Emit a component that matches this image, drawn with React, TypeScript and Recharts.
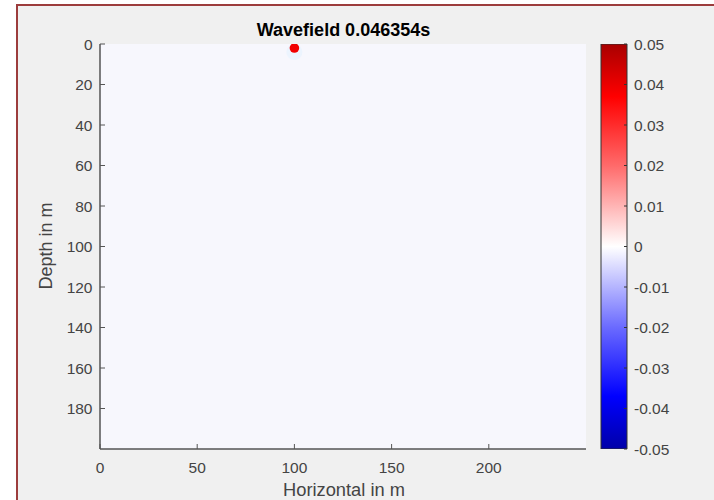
import React from 'react';
import {
  ScatterChart, Scatter, XAxis, YAxis, CartesianGrid,
  BarChart, Bar,
} from 'recharts';

const xTicks = [0, 50, 100, 150, 200];
const xDomain = [0, 250];
const yTicks = [0, 20, 40, 60, 80, 100, 120, 140, 160, 180];
const yDomain = [0, 200];
const sourcePoints = [{ x: 100, y: 2 }];
const colorTicks = [-0.05, -0.04, -0.03, -0.02, -0.01, 0, 0.01, 0.02, 0.03, 0.04, 0.05];
const colorRange = [{ name: 'cb', v: [-0.05, 0.05] }];

const FONT = '"Liberation Sans", Arial, Helvetica, sans-serif';
const AX = '#555555';
const TICK_TXT = '#444444';

const tickStyle = { fontSize: 15.5, fill: TICK_TXT, fontFamily: FONT };

export default function App() {
  return (
    <div style={{ position: 'fixed', left: 0, top: 0, width: 714, height: 500, overflow: 'hidden', background: '#ffffff' }}>
      <div
        style={{
          position: 'absolute', left: 16, top: 4, width: 720, height: 520,
          borderTop: '2px solid #9c3c3c', borderLeft: '2px solid #9c3c3c', background: '#f0f0f0',
        }}
      />
      <div style={{ position: 'absolute', left: 0, top: 0 }}>
        <ScatterChart width={714} height={500} margin={{ top: 44, right: 128, bottom: 21, left: 40 }}>
          <CartesianGrid fill="#f7f7fd" stroke="none" horizontal={false} vertical={false} />
          <XAxis
            xAxisId={0} type="number" dataKey="x" domain={xDomain} ticks={xTicks} allowDataOverflow
            height={30} tickSize={-5} tickMargin={18} stroke={AX} tick={tickStyle}
            axisLine={{ stroke: AX, strokeWidth: 1.5 }} tickLine={{ stroke: AX }}
          />
          <XAxis
            xAxisId="top" orientation="top" type="number" domain={xDomain} ticks={xTicks} allowDataOverflow
            height={0} tickSize={-5} tick={false} stroke={AX}
            axisLine={{ stroke: AX, strokeWidth: 1.5 }} tickLine={{ stroke: AX }}
          />
          <YAxis
            yAxisId={0} type="number" dataKey="y" domain={yDomain} ticks={yTicks} reversed allowDataOverflow
            width={60} tickSize={-5} tickMargin={12.5} stroke={AX} tick={tickStyle}
            axisLine={{ stroke: AX, strokeWidth: 1.5 }} tickLine={{ stroke: AX }}
          />
          <YAxis
            yAxisId="right" orientation="right" type="number" domain={yDomain} ticks={yTicks} reversed allowDataOverflow
            width={0} tickSize={-5} tick={false} stroke={AX}
            axisLine={{ stroke: AX, strokeWidth: 1.5 }} tickLine={{ stroke: AX }}
          />
          <Scatter
            data={sourcePoints} isAnimationActive={false}
            shape={(p: any) => <circle cx={p.cx} cy={p.cy + 4} r={8} fill="#e4f1ff" opacity={0.6} />}
          />
          <Scatter
            data={sourcePoints} isAnimationActive={false}
            shape={(p: any) => <circle cx={p.cx} cy={p.cy} r={4.8} fill="#f20000" />}
          />
        </ScatterChart>
      </div>
      <div style={{ position: 'absolute', left: 0, top: 0 }}>
        <BarChart width={714} height={500} data={colorRange} barCategoryGap={0} margin={{ top: 44, right: 27, bottom: 51, left: 601 }}>
          <defs>
            <linearGradient id="cbGrad" x1="0" y1="0" x2="0" y2="1">
              <stop offset="0%" stopColor="#a80000" />
              <stop offset="13%" stopColor="#ff0000" />
              <stop offset="30%" stopColor="#ff6a6a" />
              <stop offset="50%" stopColor="#ffffff" />
              <stop offset="70%" stopColor="#6a6aff" />
              <stop offset="87%" stopColor="#0000ff" />
              <stop offset="100%" stopColor="#0000a8" />
            </linearGradient>
          </defs>
          <XAxis dataKey="name" hide />
          <YAxis
            orientation="right" type="number" domain={[-0.05, 0.05]} ticks={colorTicks} allowDataOverflow
            width={60} tickSize={-3} tickMargin={10} axisLine={false}
            tickLine={{ stroke: '#333333' }} tick={{ ...tickStyle, textAnchor: 'start' }}
            tickFormatter={(v: number) => (Math.abs(v) < 1e-9 ? '0' : v.toFixed(2))}
          />
          <Bar dataKey="v" fill="url(#cbGrad)" stroke="#333333" strokeWidth={1} isAnimationActive={false} />
        </BarChart>
      </div>
      <svg width={714} height={500} style={{ position: 'absolute', left: 0, top: 0, pointerEvents: 'none' }}>
        <text x={343.5} y={36} textAnchor="middle" fontFamily={FONT} fontWeight="bold" fontSize={18} fill="#000000">
          Wavefield 0.046354s
        </text>
        <text x={344} y={496} textAnchor="middle" fontFamily={FONT} fontSize={18.3} fill={TICK_TXT}>
          Horizontal in m
        </text>
        <text transform="translate(52,246) rotate(-90)" textAnchor="middle" fontFamily={FONT} fontSize={18} fill={TICK_TXT}>
          Depth in m
        </text>
      </svg>
    </div>
  );
}
